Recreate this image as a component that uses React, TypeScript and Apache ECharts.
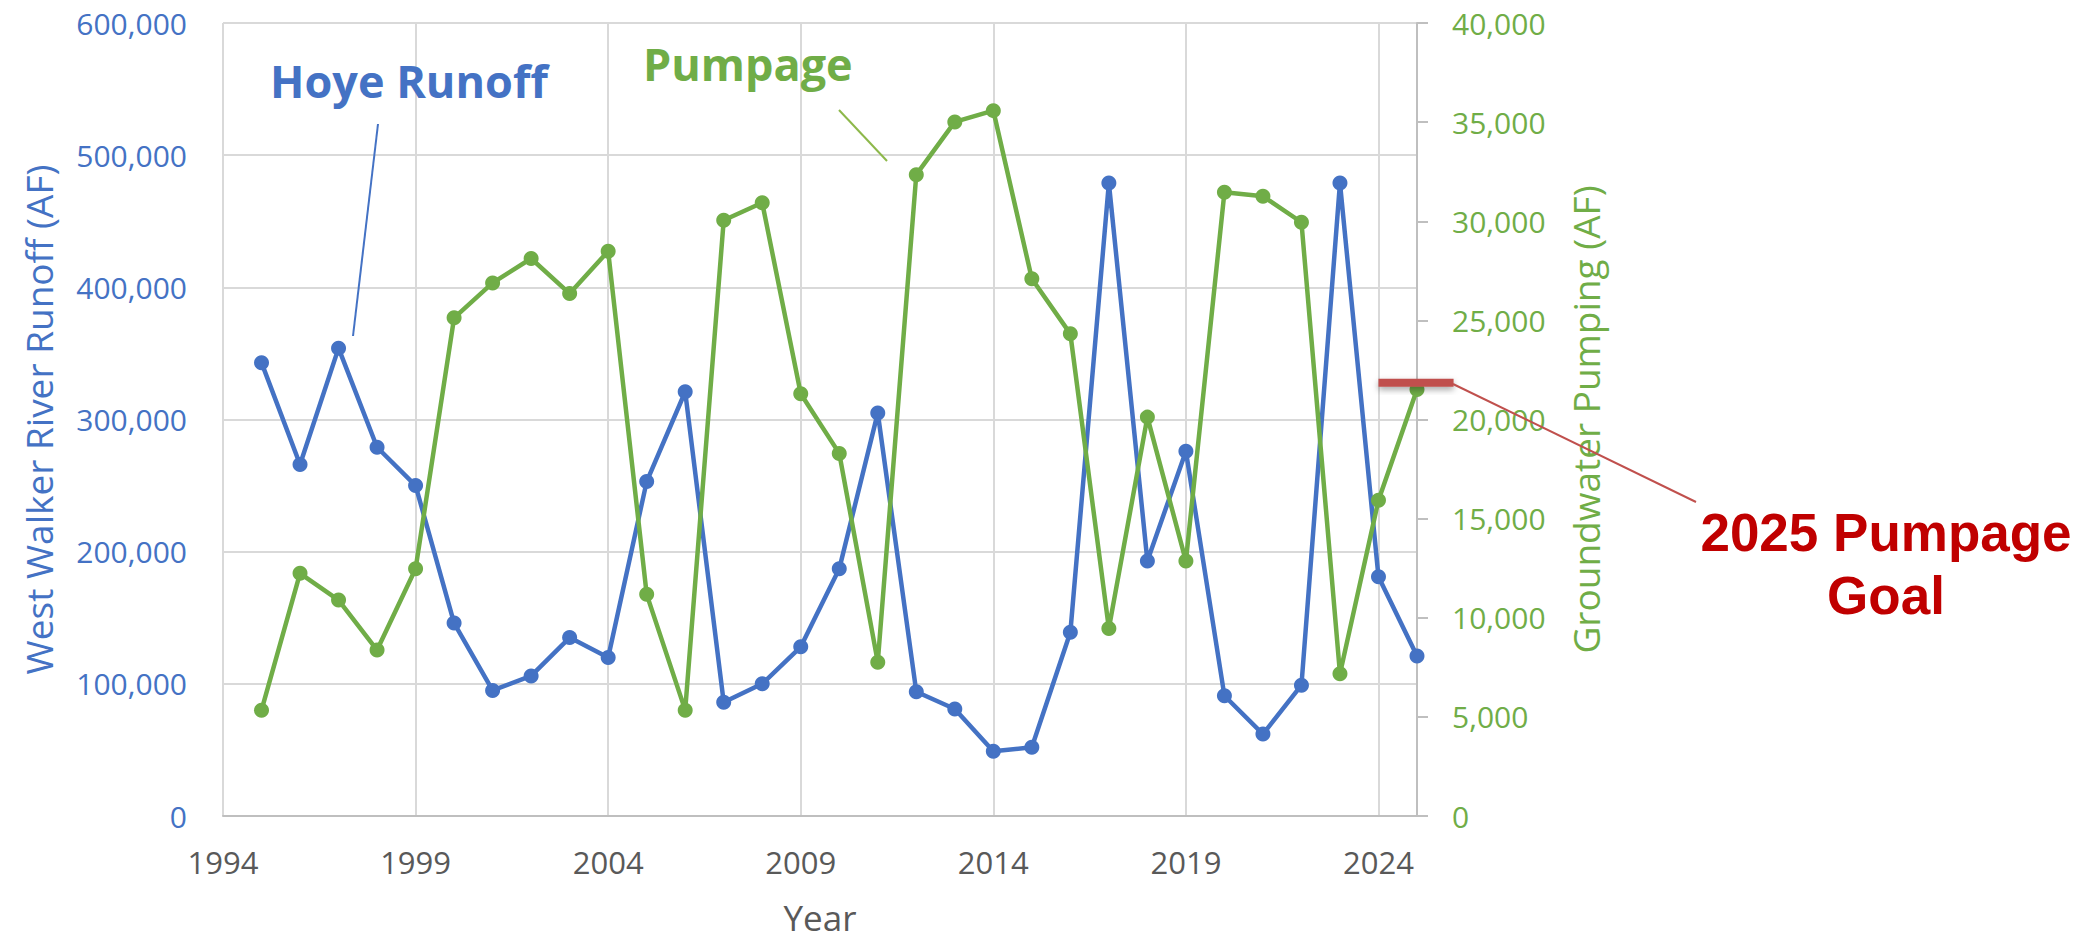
import React, { useEffect, useRef } from "react";
import * as echarts from "echarts";

const BASE_YEAR = 1994;
const years = [
  1995, 1996, 1997, 1998, 1999, 2000, 2001, 2002, 2003, 2004, 2005, 2006, 2007, 2008, 2009, 2010,
  2011, 2012, 2013, 2014, 2015, 2016, 2017, 2018, 2019, 2020, 2021, 2022, 2023, 2024, 2025,
];
const runoff = [
  343000, 266000, 354000, 279000, 250000, 146000, 95000, 106000, 135000, 120000, 253000, 321000,
  86000, 100000, 128000, 187000, 305000, 94000, 81000, 49000, 52000, 139000, 479000, 193000,
  276000, 91000, 62000, 99000, 479000, 181000, 121000,
];
const pumpage = [
  5340, 12240, 10890, 8370, 12470, 25130, 26890, 28120, 26350, 28490, 11180, 5340, 30050, 30930,
  21300, 18290, 7760, 32350, 35010, 35580, 27100, 24320, 9460, 20120, 12860, 31460, 31260, 29950,
  7180, 15930, 21510,
];
const goalYears = [2024, 2025.95];
const goalValue = 21850;

const runoffTicks = { min: 0, max: 600000, step: 100000 };
const pumpTicks = { min: 0, max: 40000, step: 5000 };
const yearTicks = { min: 1994, max: 2025, step: 5 };

const BLUE = "#4472C4";
const GREEN = "#70AD47";
const RED = "#C0504D";
const DARKRED = "#C00000";
const GRID = "#D9D9D9";
const AXIS = "#BFBFBF";
const GRAY = "#595959";
const FONT = '"Open Sans", "Noto Sans", sans-serif';

const fmt = (v: number) => Number(v).toLocaleString("en-US");

export default function App() {
  const ref = useRef<HTMLDivElement>(null);

  useEffect(() => {
    if (!ref.current) return;
    const chart = echarts.init(ref.current, null, { renderer: "svg" });
    const option: any = {
      animation: false,
      backgroundColor: "#ffffff",
      grid: { left: 223, right: 667, top: 23, bottom: 123, containLabel: false },
      xAxis: {
        type: "value",
        min: yearTicks.min - BASE_YEAR,
        max: yearTicks.max - BASE_YEAR,
        interval: yearTicks.step,
        name: "Year",
        nameLocation: "middle",
        nameGap: 84,
        nameTextStyle: { color: GRAY, fontSize: 35, fontFamily: FONT },
        axisLine: { show: true, lineStyle: { color: AXIS, width: 2 } },
        axisTick: { show: false },
        splitLine: { show: true, lineStyle: { color: GRID, width: 2 } },
        axisLabel: {
          color: GRAY,
          fontSize: 31,
          fontFamily: FONT,
          margin: 30,
          showMaxLabel: false,
          formatter: (v: number) => String(v + BASE_YEAR),
        },
      },
      yAxis: [
        {
          type: "value",
          position: "left",
          min: runoffTicks.min,
          max: runoffTicks.max,
          interval: runoffTicks.step,
          name: "West Walker River Runoff (AF)",
          nameLocation: "middle",
          nameGap: 166,
          nameTextStyle: { color: BLUE, fontSize: 37, fontFamily: FONT },
          axisLine: { show: false },
          axisTick: { show: false },
          splitLine: { show: true, lineStyle: { color: GRID, width: 2 } },
          axisLabel: { color: BLUE, fontSize: 30, fontFamily: FONT, margin: 36, formatter: fmt },
        },
        {
          type: "value",
          position: "right",
          min: pumpTicks.min,
          max: pumpTicks.max,
          interval: pumpTicks.step,
          name: "Groundwater Pumping (AF)",
          nameLocation: "middle",
          nameGap: 150,
          nameTextStyle: { color: GREEN, fontSize: 37, fontFamily: FONT },
          axisLine: { show: true, lineStyle: { color: AXIS, width: 2 } },
          axisTick: { show: true, length: 11, lineStyle: { color: AXIS, width: 2 } },
          splitLine: { show: false },
          axisLabel: { color: GREEN, fontSize: 30, fontFamily: FONT, margin: 35, formatter: fmt },
        },
      ],
      series: [
        {
          type: "line",
          name: "Hoye Runoff",
          xAxisIndex: 0,
          yAxisIndex: 0,
          data: years.map((y, i) => [y - BASE_YEAR, runoff[i]]),
          symbol: "circle",
          symbolSize: 15,
          lineStyle: { color: BLUE, width: 4.5 },
          itemStyle: { color: BLUE },
          z: 2,
        },
        {
          type: "line",
          name: "Pumpage",
          xAxisIndex: 0,
          yAxisIndex: 1,
          data: years.map((y, i) => [y - BASE_YEAR, pumpage[i]]),
          symbol: "circle",
          symbolSize: 15,
          lineStyle: { color: GREEN, width: 4.5 },
          itemStyle: { color: GREEN },
          z: 3,
        },
        {
          type: "custom",
          name: "2025 Pumpage Goal",
          xAxisIndex: 0,
          yAxisIndex: 1,
          clip: false,
          silent: true,
          z: 4,
          data: [[goalYears[0] - BASE_YEAR, goalYears[1] - BASE_YEAR, goalValue]],
          renderItem: (params: any, api: any) => {
            const p1 = api.coord([api.value(0), api.value(2)]);
            const p2 = api.coord([api.value(1), api.value(2)]);
            return {
              type: "rect",
              shape: { x: p1[0], y: p1[1] - 4, width: p2[0] - p1[0], height: 8 },
              style: {
                fill: RED,
                shadowColor: "rgba(0,0,0,0.35)",
                shadowBlur: 6,
                shadowOffsetY: 3,
              },
            };
          },
        },
      ],
      graphic: [
        {
          type: "line",
          shape: { x1: 378, y1: 124, x2: 353, y2: 336 },
          style: { stroke: BLUE, lineWidth: 2 },
          z: 10,
        },
        {
          type: "line",
          shape: { x1: 839, y1: 110, x2: 887, y2: 161 },
          style: { stroke: "#8DB84A", lineWidth: 2 },
          z: 10,
        },
        {
          type: "line",
          shape: { x1: 1453, y1: 384, x2: 1696, y2: 502 },
          style: { stroke: RED, lineWidth: 2 },
          z: 10,
        },
        {
          type: "text",
          x: 270,
          y: 80,
          style: {
            text: "Hoye Runoff",
            font: `bold 45px ${FONT}`,
            fill: BLUE,
            textAlign: "left",
            textVerticalAlign: "middle",
          },
          z: 10,
        },
        {
          type: "text",
          x: 643,
          y: 63,
          style: {
            text: "Pumpage",
            font: `bold 45px ${FONT}`,
            fill: GREEN,
            textAlign: "left",
            textVerticalAlign: "middle",
          },
          z: 10,
        },
        {
          type: "text",
          x: 1886,
          y: 532,
          style: {
            text: "2025 Pumpage",
            font: 'bold 53px "Liberation Sans", Arial, sans-serif',
            fill: DARKRED,
            textAlign: "center",
            textVerticalAlign: "middle",
          },
          z: 10,
        },
        {
          type: "text",
          x: 1886,
          y: 595,
          style: {
            text: "Goal",
            font: 'bold 53px "Liberation Sans", Arial, sans-serif',
            fill: DARKRED,
            textAlign: "center",
            textVerticalAlign: "middle",
          },
          z: 10,
        },
      ],
    };
    chart.setOption(option);
    return () => chart.dispose();
  }, []);

  return (
    <div
      ref={ref}
      style={{ position: "absolute", left: 0, top: 0, width: 2084, height: 940, background: "#fff" }}
    />
  );
}
